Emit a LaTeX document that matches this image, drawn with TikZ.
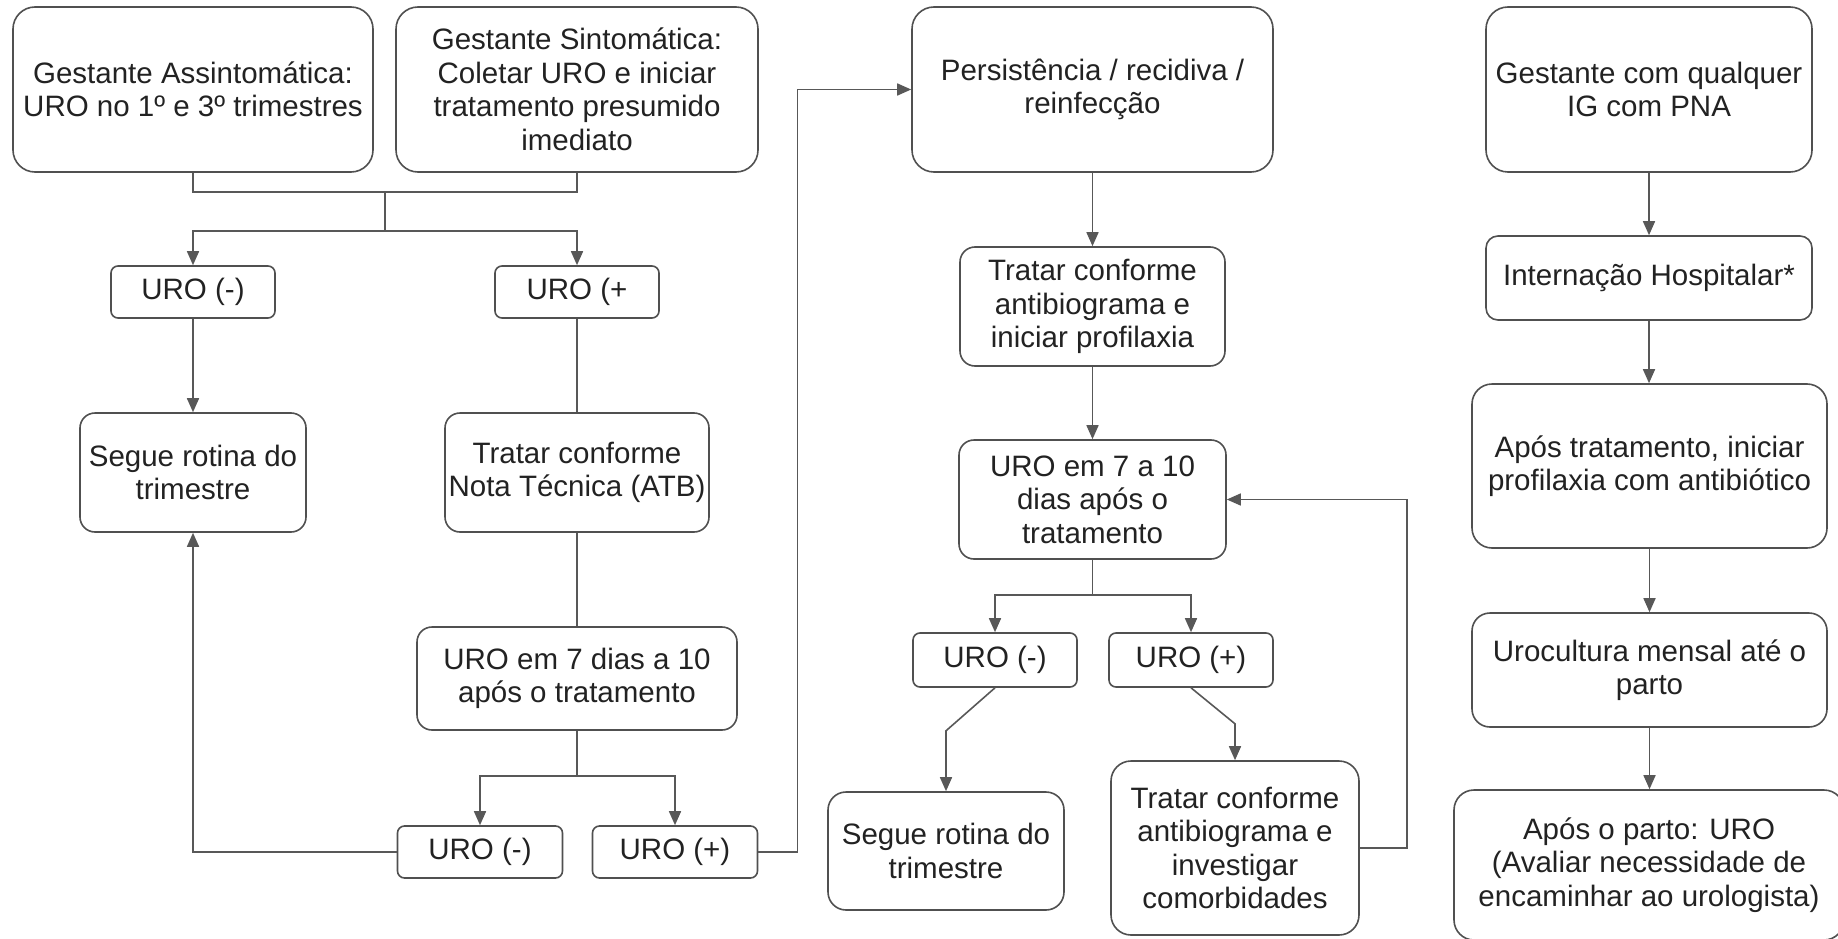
\documentclass[tikz,border=0pt]{standalone}
\usepackage{fontspec}
\setmainfont{Liberation Sans}
\usetikzlibrary{arrows.meta}
\definecolor{boxc}{HTML}{505050}
\definecolor{linec}{HTML}{585858}
\definecolor{txt}{HTML}{222222}
\newcommand{\fs}{\fontsize{29.5}{33.5}\selectfont}
\tikzset{
  box/.style={draw=boxc, line width=1.6pt, rounded corners=#1, fill=white,
    align=center, inner sep=0pt, font=\fs, text=txt},
  box/.default=15pt,
  conn/.style={draw=linec, line width=1.6pt},
  arr/.style={conn, -{Triangle[length=14pt,width=12pt]}}
}
\begin{document}
\begin{tikzpicture}[x=1pt,y=-1pt]
\useasboundingbox (0,0) rectangle (1838,939);
% column 1
\node[box=22pt, minimum width=360pt, minimum height=165pt] (ga) at (193,89.5) {Gestante Assintomática:\\URO no 1º e 3º trimestres};
\node[box=22pt, minimum width=362pt, minimum height=165pt] (gs) at (577,89.5) {Gestante Sintomática:\\Coletar URO e iniciar\\tratamento presumido\\imediato};
\node[box=7pt, minimum width=164pt, minimum height=52pt] (um1) at (193,292) {URO (-)};
\node[box=7pt, minimum width=164pt, minimum height=52pt] (up1) at (577,292) {URO (+};
\node[box=15pt, minimum width=226pt, minimum height=119pt] (sg1) at (193,472.5) {Segue rotina do\\trimestre};
\node[box=15pt, minimum width=264pt, minimum height=119pt] (tn) at (577,472.5) {Tratar conforme\\Nota Técnica (ATB)};
\node[box=15pt, minimum width=320pt, minimum height=103pt] (u7) at (577,678.5) {URO em 7 dias a 10\\após o tratamento};
\node[box=7pt, minimum width=165pt, minimum height=52pt] (um2) at (480,852) {URO (-)};
\node[box=7pt, minimum width=165pt, minimum height=52pt] (up2) at (675,852) {URO (+)};
% column 2
\node[box=22pt, minimum width=361pt, minimum height=165pt] (pr) at (1092.5,89.5) {Persistência / recidiva /\\reinfecção};
\node[box=15pt, minimum width=265pt, minimum height=119pt] (ta) at (1092.5,306.5) {Tratar conforme\\antibiograma e\\iniciar profilaxia};
\node[box=15pt, minimum width=267pt, minimum height=119pt] (u10) at (1092.5,499.5) {URO em 7 a 10\\dias após o\\tratamento};
\node[box=7pt, minimum width=164pt, minimum height=54pt] (um3) at (995,660) {URO (-)};
\node[box=7pt, minimum width=164pt, minimum height=54pt] (up3) at (1191,660) {URO (+)};
\node[box=18pt, minimum width=236pt, minimum height=118pt] (sg2) at (946,851) {Segue rotina do\\trimestre};
\node[box=20pt, minimum width=248pt, minimum height=174pt] (ti) at (1235,848) {Tratar conforme\\antibiograma e\\investigar\\comorbidades};
% column 3
\node[box=22pt, minimum width=326pt, minimum height=165pt] (gq) at (1649,89.5) {Gestante com qualquer\\IG com PNA};
\node[box=12pt, minimum width=326pt, minimum height=84pt] (ih) at (1649,278) {Internação Hospitalar*};
\node[box=20pt, minimum width=355pt, minimum height=164pt] (at) at (1649.5,466) {Após tratamento, iniciar\\profilaxia com antibiótico};
\node[box=18pt, minimum width=355pt, minimum height=114pt] (uc) at (1649.5,670) {Urocultura mensal até o\\parto};
\node[box=20pt, minimum width=390pt, minimum height=150pt] (ap) at (1649,865) {Após o parto: URO\\(Avaliar necessidade de\\encaminhar ao urologista)};
% connectors column 1
\draw[conn] (ga.south) -- ++(0,19) -| (gs.south);
\draw[conn] (385,191) coordinate (j1) -- (385,231) coordinate (j2);
\draw[arr] (j2) -| (um1.north);
\draw[arr] (j2) -| (up1.north);
\draw[arr] (um1.south) -- (sg1.north);
\draw[conn] (up1.south) -- (tn.north);
\draw[conn] (tn.south) -- (u7.north);
\draw[conn] (u7.south) -- ++(0,45) coordinate (b1);
\draw[arr] (b1) -| (um2.north);
\draw[arr] (b1) -| (up2.north);
\draw[arr] (um2.west) -| (sg1.south);
\draw[arr] (up2.east) -- ++(39,0) |- (pr.west);
% connectors column 2
\draw[arr] (pr.south) -- (ta.north);
\draw[arr] (ta.south) -- (u10.north);
\draw[conn] (u10.south) -- ++(0,35) coordinate (b2);
\draw[arr] (b2) -| (um3.north);
\draw[arr] (b2) -| (up3.north);
\draw[arr] (um3.south) -- ++(-49,43) -- (sg2.north);
\draw[arr] (up3.south) -- ++(44,36) -- (ti.north);
\draw[arr] (ti.east) -- ++(47,0) |- (u10.east);
% connectors column 3
\draw[arr] (gq.south) -- (ih.north);
\draw[arr] (ih.south) -- (ih.south |- at.north);
\draw[arr] (at.south) -- (at.south |- uc.north);
\draw[arr] (uc.south) -- (uc.south |- ap.north);
\end{tikzpicture}
\end{document}
